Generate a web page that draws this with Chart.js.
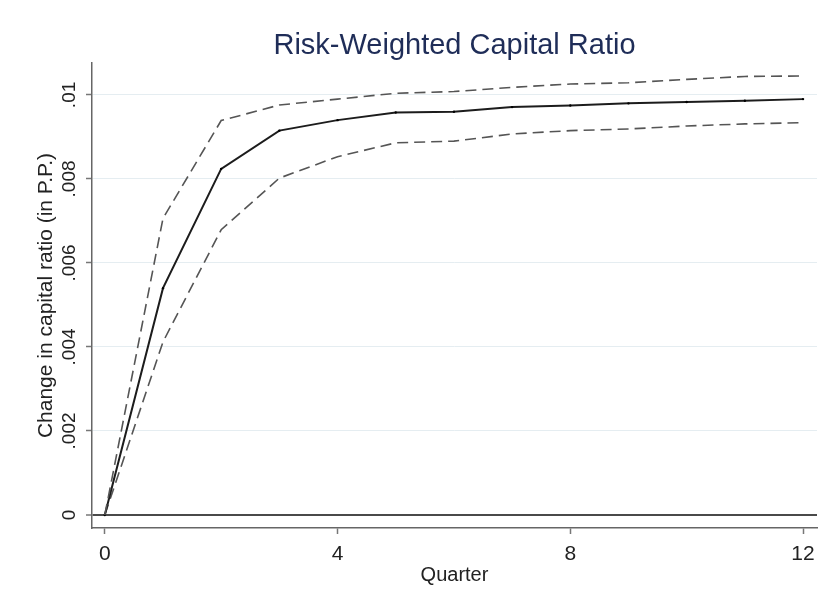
<!DOCTYPE html>
<html>
<head>
<meta charset="utf-8">
<title>Risk-Weighted Capital Ratio</title>
<script src="https://cdn.jsdelivr.net/npm/chart.js@4/dist/chart.umd.min.js"></script>
<style>
  body { margin: 0; background: #fff; }
  #wrap { width: 821px; height: 605px; }
</style>
</head>
<body>
<div id="wrap"><canvas id="myChart" width="821" height="605"></canvas></div>
<script>
'use strict';

// quarters after the shock
const quarters = [0, 1, 2, 3, 4, 5, 6, 7, 8, 9, 10, 11, 12];
// point estimate and the two confidence bands
const estimate = [0, 0.0054, 0.00824, 0.00915, 0.0094, 0.00958, 0.0096, 0.00971, 0.00975, 0.0098, 0.00983, 0.00986, 0.0099];
const upperBand = [0, 0.00706, 0.00939, 0.00976, 0.0099, 0.01004, 0.01008, 0.01018, 0.01026, 0.01029, 0.01037, 0.01044, 0.01045];
const lowerBand = [0, 0.00412, 0.00679, 0.00802, 0.00853, 0.00886, 0.0089, 0.00907, 0.00915, 0.00919, 0.00926, 0.00931, 0.00934];

const xTicks = [0, 4, 8, 12];
const yTicks = [0, 0.002, 0.004, 0.006, 0.008, 0.01];
const yTickLabels = ['0', '.002', '.004', '.006', '.008', '.01'];

function points(values) {
  return quarters.map((q, i) => ({x: q, y: values[i]}));
}

const font = 'Liberation Sans, Arial, sans-serif';

let ctx = document.getElementById('myChart').getContext('2d');
let chart = new Chart(ctx, {
  type: 'line',
  data: {
    datasets: [
      {
        label: 'Upper',
        data: points(upperBand),
        borderColor: '#555',
        borderWidth: 1.6,
        borderDash: [11, 6],
        pointRadius: 0
      },
      {
        label: 'Estimate',
        data: points(estimate),
        borderColor: '#1c1c1c',
        borderWidth: 2,
        pointRadius: 1.2,
        pointBackgroundColor: '#000',
        pointBorderWidth: 0
      },
      {
        label: 'Lower',
        data: points(lowerBand),
        borderColor: '#555',
        borderWidth: 1.6,
        borderDash: [11, 6],
        pointRadius: 0
      }
    ]
  },
  options: {
    responsive: false,
    animation: false,
    layout: {padding: {top: 0, right: 1, left: 0, bottom: 0}},
    plugins: {
      legend: {display: false},
      tooltip: {enabled: false},
      title: {
        display: true,
        text: 'Risk-Weighted Capital Ratio',
        fullSize: false,
        color: '#1f2d58',
        font: {family: font, size: 29, weight: 'normal'},
        padding: {top: 28.2, bottom: 0}
      }
    },
    scales: {
      x: {
        type: 'linear',
        min: -0.22,
        max: 12.24,
        afterFit: s => {
          s.height = 77;
          // let the last label run into the margin instead of shrinking the plot
          s.paddingLeft = 0;
          s.paddingRight = 0;
        },
        afterBuildTicks: s => { s.ticks = xTicks.map(v => ({value: v})); },
        ticks: {
          color: '#222',
          font: {family: font, size: 21},
          padding: 8,
          maxRotation: 0,
          autoSkip: false,
          callback: v => String(v)
        },
        grid: {drawOnChartArea: false, drawTicks: true, tickLength: 6, tickColor: '#777', tickWidth: 1.5},
        border: {display: true, color: '#666', width: 1.5},
        title: {
          display: true,
          text: 'Quarter',
          color: '#222',
          font: {family: font, size: 20},
          padding: {top: 0, bottom: 18}
        }
      },
      y: {
        type: 'linear',
        min: -0.00031,
        max: 0.01076,
        afterFit: s => { s.width = 92; },
        afterBuildTicks: s => { s.ticks = yTicks.map(v => ({value: v})); },
        ticks: {
          color: '#222',
          font: {family: font, size: 19},
          minRotation: 90,
          maxRotation: 90,
          crossAlign: 'center',
          padding: -2,
          autoSkip: false,
          callback: (v, i) => yTickLabels[i]
        },
        grid: {
          color: c => (c.tick && c.tick.value === 0) ? '#4a4a4a' : '#e5edf1',
          lineWidth: c => (c.tick && c.tick.value === 0) ? 2 : 1,
          tickLength: 6,
          tickColor: '#777',
          tickWidth: 1.5
        },
        border: {display: true, color: '#666', width: 1.5},
        title: {
          display: true,
          text: 'Change in capital ratio (in P.P.)',
          color: '#222',
          font: {family: font, size: 21},
          padding: {top: 34, bottom: 0}
        }
      }
    }
  }
});
</script>
</body>
</html>
